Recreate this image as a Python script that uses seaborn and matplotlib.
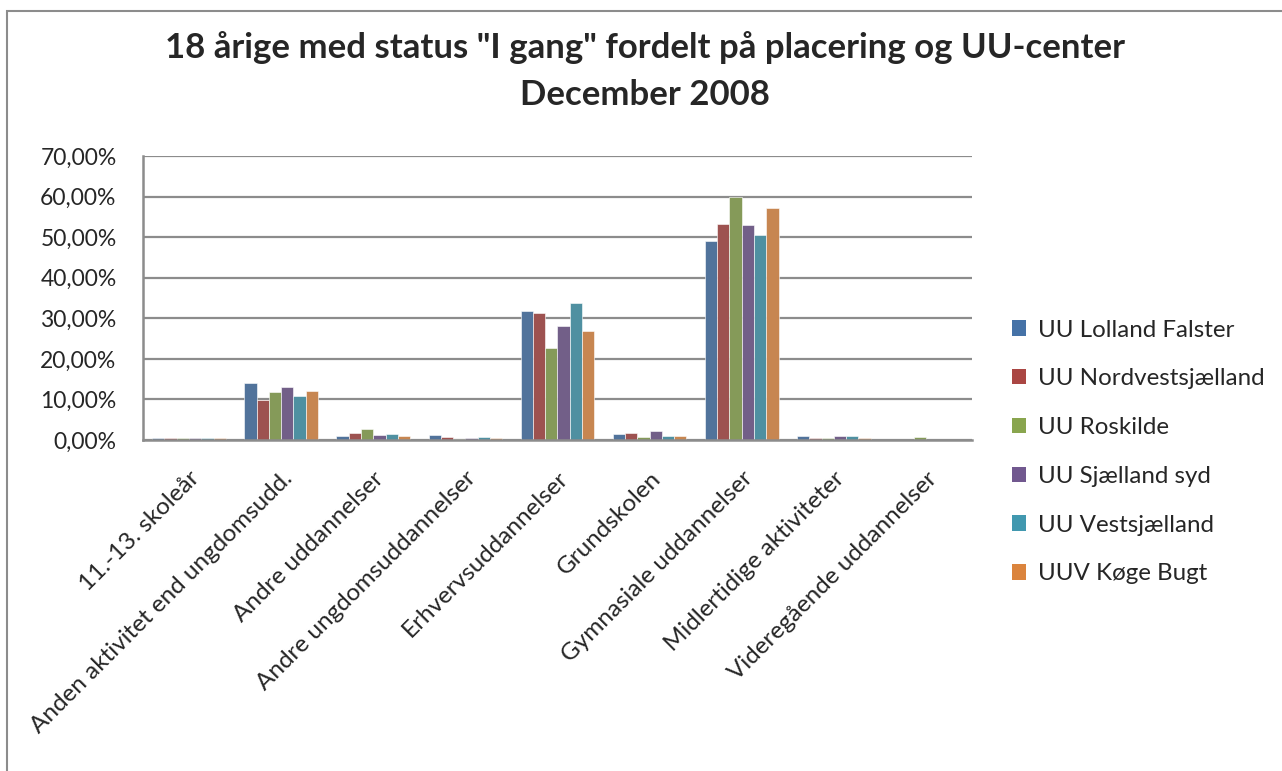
import numpy as np
import pandas as pd
import matplotlib
matplotlib.use("Agg")
import matplotlib.pyplot as plt
from matplotlib.patches import Rectangle, Patch
from matplotlib.ticker import FuncFormatter
import seaborn as sns

# categories and centres
categories = ['11.-13. skoleår', 'Anden aktivitet end ungdomsudd.', 'Andre uddannelser',
              'Andre ungdomsuddannelser', 'Erhvervsuddannelser', 'Grundskolen',
              'Gymnasiale uddannelser', 'Midlertidige aktiviteter', 'Videregående uddannelser']
centres = ['UU Lolland Falster', 'UU Nordvestsjælland', 'UU Roskilde',
           'UU Sjælland syd', 'UU Vestsjælland', 'UUV Køge Bugt']

# percent values per centre
lolland = [0.4, 14.0, 1.1, 1.15, 31.8, 1.4, 49.1, 1.0, 0.0]
nordvest = [0.4, 9.8, 1.65, 0.8, 31.2, 1.8, 53.3, 0.6, 0.0]
roskilde = [0.4, 11.8, 2.7, 0.3, 22.6, 0.7, 60.0, 0.4, 0.8]
sjaelland_syd = [0.4, 13.1, 1.15, 0.5, 28.0, 2.2, 52.9, 0.9, 0.0]
vestsjaelland = [0.4, 10.8, 1.5, 0.8, 33.8, 1.1, 50.5, 0.9, 0.0]
koege = [0.4, 12.2, 1.1, 0.6, 26.8, 0.9, 57.3, 0.6, 0.0]

colors = ['#4572A7', '#AA4643', '#89A54E', '#71588F', '#4198AF', '#DB843D']

series = [lolland, nordvest, roskilde, sjaelland_syd, vestsjaelland, koege]
rows = []
for c, vals in zip(centres, series):
    for cat, v in zip(categories, vals):
        rows.append({'placering': cat, 'center': c, 'andel': v})
df = pd.DataFrame(rows)

sns.set_style("white")
plt.rcParams['font.family'] = ['Lato', 'DejaVu Sans']

W, H = 1282, 771
fig = plt.figure(figsize=(W / 100, H / 100), dpi=100)
ax = fig.add_axes([143 / W, 1 - 440 / H, 829 / W, 284 / H])

sns.barplot(data=df, x='placering', y='andel', hue='center', order=categories,
            hue_order=centres, palette=colors, width=0.8, ax=ax,
            edgecolor='white', linewidth=0.4, legend=False)

ax.set_ylim(0, 70)
ax.set_yticks(np.arange(0, 71, 10))
ax.yaxis.set_major_formatter(FuncFormatter(lambda v, p: f"{v:.2f}".replace('.', ',') + '%'))
ax.grid(axis='y', color='#8c8c8c', linewidth=1.6)
ax.set_axisbelow(True)
ax.set_xlabel('')
ax.set_ylabel('')
for s in ['top', 'right']:
    ax.spines[s].set_visible(False)
for s in ['left', 'bottom']:
    ax.spines[s].set_color('#8c8c8c')
    ax.spines[s].set_linewidth(1.8)
ax.tick_params(axis='y', labelsize=16.5, length=0, pad=19)
ax.tick_params(axis='x', labelsize=17.5, length=0, pad=20)
ax.set_xticks(range(len(categories)))
ax.set_xticklabels(categories, rotation=45, ha='right', rotation_mode='anchor')
ax.set_xlim(-0.5, len(categories) - 0.5)

handles = [Patch(facecolor=c, edgecolor='none') for c in colors]
fig.legend(handles, centres, loc='center left', bbox_to_anchor=(990 / W, 1 - 452 / H),
           frameon=False, fontsize=17.4, handlelength=0.6, handleheight=0.6,
           handletextpad=0.5, labelspacing=1.15)

fig.text(645 / W, 1 - 48 / H, '18 årige med status "I gang" fordelt på placering og UU-center',
         ha='center', va='center', fontsize=25, fontweight='bold')
fig.text(645 / W, 1 - 95 / H, 'December 2008', ha='center', va='center',
         fontsize=25, fontweight='bold')

# chart area border
fig.patches.append(Rectangle((7 / W, -0.05), 1.1, 1 - 11 / H + 0.05, transform=fig.transFigure,
                             fill=False, edgecolor='#8c8c8c', linewidth=1.5))

fig.savefig('out.png', dpi=100)
